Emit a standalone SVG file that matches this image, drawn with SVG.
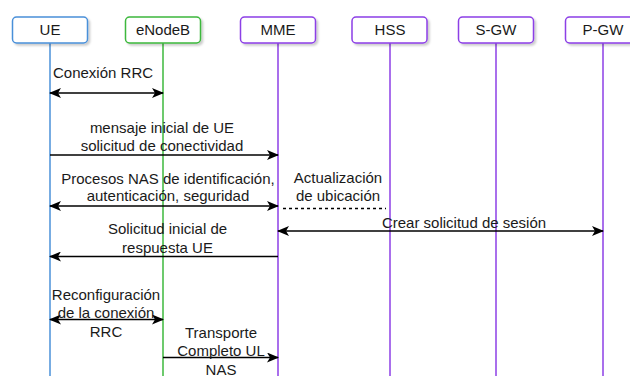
<svg xmlns="http://www.w3.org/2000/svg" width="630" height="376" viewBox="0 0 630 376">
<defs>
<marker id="ah" viewBox="0 0 12 10" refX="11" refY="5" markerWidth="12" markerHeight="10" markerUnits="userSpaceOnUse" orient="auto-start-reverse">
<path d="M0,0 L12,5 L0,10 L3,5 Z" fill="#000"/>
</marker>
<filter id="sh" x="-10%" y="-20%" width="130%" height="160%">
<feDropShadow dx="2" dy="2" stdDeviation="1" flood-color="#000" flood-opacity="0.2"/>
</filter>
</defs>
<style>
text{font-family:"Liberation Sans",Arial,sans-serif;font-size:15px;fill:#1a1a1a}
.c{text-anchor:middle}
.box{fill:#fff;stroke-width:1.5;filter:url(#sh)}
.life{stroke-width:1.5;fill:none}
.blue{stroke:#4a90d9}
.green{stroke:#3cb83c}
.purple{stroke:#8c3fe6}
.msg{stroke:#000;stroke-width:1.3;fill:none}
</style>
<rect width="630" height="376" fill="#fff"/>
<g id="UE">
<line class="life blue" x1="50" y1="43" x2="50" y2="376"/>
<rect class="box blue" x="12.5" y="17" width="75" height="26" rx="4"/>
<text class="c" x="50" y="35">UE</text>
</g>
<g id="eNodeB">
<line class="life green" x1="163" y1="43" x2="163" y2="376"/>
<rect class="box green" x="125.5" y="17" width="75" height="26" rx="4"/>
<text class="c" x="163" y="35">eNodeB</text>
</g>
<g id="MME">
<line class="life purple" x1="278" y1="43" x2="278" y2="376"/>
<rect class="box purple" x="240.5" y="17" width="75" height="26" rx="4"/>
<text class="c" x="278" y="35">MME</text>
</g>
<g id="HSS">
<line class="life purple" x1="390" y1="43" x2="390" y2="376"/>
<rect class="box purple" x="352" y="17" width="75" height="26" rx="4"/>
<text class="c" x="390" y="35">HSS</text>
</g>
<g id="S-GW">
<line class="life purple" x1="496" y1="43" x2="496" y2="376"/>
<rect class="box purple" x="458.5" y="17" width="75" height="26" rx="4"/>
<text class="c" x="496" y="35">S-GW</text>
</g>
<g id="P-GW">
<line class="life purple" x1="603" y1="43" x2="603" y2="376"/>
<rect class="box purple" x="565.5" y="17" width="75" height="26" rx="4"/>
<text class="c" x="603" y="35">P-GW</text>
</g>
<g id="connectors">
<line class="msg" x1="50" y1="93" x2="163" y2="93" marker-start="url(#ah)" marker-end="url(#ah)"/>
<text x="53" y="78">Conexión RRC</text>
<line class="msg" x1="50" y1="155" x2="278" y2="155" marker-end="url(#ah)"/>
<text class="c" x="162" y="133">mensaje inicial de UE</text>
<text class="c" x="162" y="151">solicitud de conectividad</text>
<line class="msg" x1="50" y1="206" x2="278" y2="206" marker-start="url(#ah)" marker-end="url(#ah)"/>
<text class="c" x="168" y="183.5">Procesos NAS de identificación,</text>
<text class="c" x="168" y="201">autenticación, seguridad</text>
<line class="msg" x1="283" y1="208.5" x2="386" y2="208.5" stroke-dasharray="3 3"/>
<text class="c" x="338" y="183">Actualización</text>
<text class="c" x="338" y="201">de ubicación</text>
<line class="msg" x1="278" y1="231" x2="603" y2="231" marker-start="url(#ah)" marker-end="url(#ah)"/>
<text class="c" x="464" y="228">Crear solicitud de sesión</text>
<line class="msg" x1="278" y1="256.5" x2="50" y2="256.5" marker-end="url(#ah)"/>
<text class="c" x="167.5" y="233.5">Solicitud inicial de</text>
<text class="c" x="167.5" y="252.5">respuesta UE</text>
<line class="msg" x1="50" y1="319.5" x2="163" y2="319.5" marker-start="url(#ah)" marker-end="url(#ah)"/>
<text class="c" x="106" y="300">Reconfiguración</text>
<text class="c" x="106" y="318">de la conexión</text>
<text class="c" x="106" y="336.5">RRC</text>
<line class="msg" x1="163" y1="357.5" x2="278" y2="357.5" marker-end="url(#ah)"/>
<text class="c" x="221" y="338">Transporte</text>
<text class="c" x="221" y="356">Completo UL</text>
<text class="c" x="221" y="374.5">NAS</text>
</g>
</svg>
